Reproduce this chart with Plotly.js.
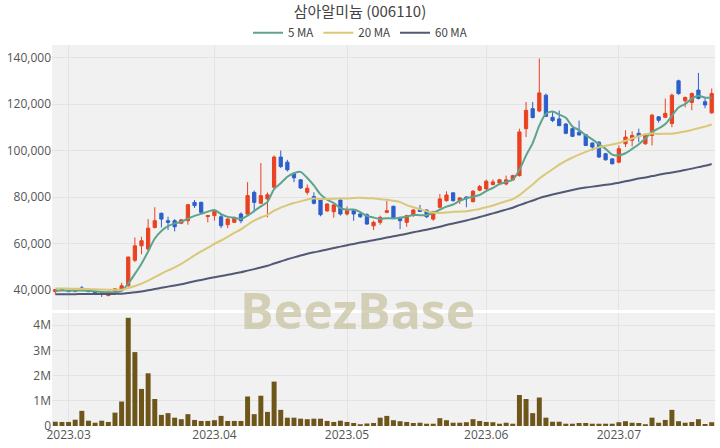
<!DOCTYPE html>
<html><head><meta charset="utf-8">
<script src="https://cdn.plot.ly/plotly-3.0.1.min.js"></script>
<style>html,body{margin:0;padding:0;background:#fff;}#chart{width:720px;height:448px;}</style>
</head><body><div id="chart"></div>
<script>
const dates = [
'2023-02-27','2023-02-28',
'2023-03-02','2023-03-03','2023-03-06','2023-03-07','2023-03-08','2023-03-09','2023-03-10','2023-03-13','2023-03-14','2023-03-15','2023-03-16','2023-03-17','2023-03-20','2023-03-21','2023-03-22','2023-03-23','2023-03-24','2023-03-27','2023-03-28','2023-03-29','2023-03-30','2023-03-31',
'2023-04-03','2023-04-04','2023-04-05','2023-04-06','2023-04-07','2023-04-10','2023-04-11','2023-04-12','2023-04-13','2023-04-14','2023-04-17','2023-04-18','2023-04-19','2023-04-20','2023-04-21','2023-04-24','2023-04-25','2023-04-26','2023-04-27','2023-04-28',
'2023-05-02','2023-05-03','2023-05-04','2023-05-08','2023-05-09','2023-05-10','2023-05-11','2023-05-12','2023-05-15','2023-05-16','2023-05-17','2023-05-18','2023-05-19','2023-05-22','2023-05-23','2023-05-24','2023-05-25','2023-05-26','2023-05-29','2023-05-30','2023-05-31',
'2023-06-01','2023-06-02','2023-06-05','2023-06-07','2023-06-08','2023-06-09','2023-06-12','2023-06-13','2023-06-14','2023-06-15','2023-06-16','2023-06-19','2023-06-20','2023-06-21','2023-06-22','2023-06-23','2023-06-26','2023-06-27','2023-06-28','2023-06-29',
'2023-07-03','2023-07-04','2023-07-05','2023-07-06','2023-07-07','2023-07-10','2023-07-11','2023-07-12','2023-07-13','2023-07-14','2023-07-17','2023-07-18','2023-07-19','2023-07-20','2023-07-21'];

const openP = [39300,40200,39900,39300,40900,40200,39300,38800,37600,39800,40400,41800,52800,59000,57600,66900,73000,69800,69800,68700,
69800,77700,77700,71600,72000,71500,68100,69100,72700,72700,82000,77300,79200,84200,97200,95000,90000,87400,82000,80200,
78700,74000,73700,78700,72700,74100,72700,72400,67600,69100,73400,76000,71250,69100,72000,74800,74400,70500,75600,78400,
81800,78400,80000,78000,82900,83500,85400,86000,85600,87400,89200,109400,118000,117000,123800,114300,113600,111400,109400,107900,
106800,103200,103600,98600,96400,95000,102900,104400,107400,102900,106500,114500,114300,111600,130000,121400,120700,126000,121000,116200];
const highP = [40300,40500,40000,40000,41700,40400,39400,39000,39300,40800,43100,54300,62600,62900,70500,75600,73300,71500,70500,70500,
77000,78700,78000,72300,74200,72700,71000,71500,73400,86400,82800,94600,82000,97900,100000,96000,90700,87600,85400,82000,
79000,77300,77000,79000,75900,74800,73000,73000,69800,72000,78400,76300,71500,72400,74800,76600,74600,74000,81300,82500,
82000,80000,80300,83000,85200,87500,87600,87800,89200,89600,109400,120900,120900,139600,124500,116500,117200,111800,110000,112900,
107000,103500,104000,99000,96700,102200,108700,108300,109400,107000,115800,114800,122300,124500,130500,123300,125000,133400,123100,126700];
const lowP = [38200,39700,39100,39200,39800,39100,38600,37000,37300,39500,40000,41500,52000,55400,57000,66500,66900,65800,65200,68300,
68100,75300,73200,69100,69800,66600,66600,68800,68700,72000,73400,77000,71300,83500,92500,91000,86400,83500,81000,76800,
71700,73800,71100,72000,72000,69800,71000,68000,65800,68100,73000,70800,66200,67200,71500,73600,71000,69800,75000,78000,
78000,77000,75600,77700,82500,83000,85000,85500,85000,87000,88800,105800,113800,116500,114500,112200,110500,107000,105800,106500,
101900,100000,96800,95700,94000,94500,101500,101800,103600,102500,102200,112000,113900,110000,124000,118600,117300,122000,118200,115800];
const closeP = [40200,39800,39300,39800,40000,39300,38700,38100,39100,40500,41800,54200,59000,61200,66600,69800,70500,69100,67200,70200,
76700,76300,73400,72000,73800,67650,70500,71250,69800,80600,77700,80600,81000,97200,93100,91700,88250,83900,83800,77300,
72400,77000,76600,72700,74100,72700,71500,68400,69100,71250,74100,71000,69800,72000,74400,73800,71500,73800,79200,80900,
78450,79600,79300,82500,84500,86800,86500,87400,87400,89200,108000,117300,114200,124800,114700,112900,110700,107400,106100,106700,
102200,101500,97200,96000,94300,100800,105800,106500,106100,106700,115200,113000,116000,123800,124500,122800,124500,122400,119600,124500];
const volume = [170000,160000,160000,250000,600000,210000,130000,210000,160000,530000,970000,4290000,2930000,1470000,2090000,1070000,440000,510000,330000,270000,
470000,240000,200000,200000,230000,400000,200000,200000,200000,1170000,470000,1200000,560000,1760000,640000,330000,330000,290000,270000,290000,
290000,200000,160000,210000,160000,120000,70000,100000,120000,330000,400000,230000,190000,160000,120000,130000,90000,90000,310000,230000,
130000,130000,150000,270000,200000,160000,150000,90000,130000,90000,1230000,1070000,510000,1130000,330000,170000,170000,90000,90000,120000,
120000,90000,90000,90000,90000,150000,190000,130000,120000,70000,330000,130000,240000,640000,190000,130000,160000,270000,80000,150000];
const ma5 = [39700,39800,39700,39800,39820,39640,39420,39180,39040,39140,39640,42740,46920,51340,56560,62160,65420,67440,68640,69360,
70740,71900,72760,73720,74440,72630,71470,71040,70600,71960,73970,75990,77940,83420,85920,88720,90250,90830,88150,84990,
81130,78880,77420,75200,74560,74620,73520,71880,71160,70590,70870,70770,71050,71630,72260,72200,72300,73100,74540,75840,
76770,78390,79490,80150,80870,82540,83920,85540,86520,87460,91700,97860,103220,110700,115800,116780,115460,114100,110360,108760,
106620,104780,102740,100720,98240,97960,98820,100680,102700,105180,108060,109500,111400,114940,118500,120020,122320,123600,122760,122760];
const ma20 = [40675,40630,40560,40515,40480,40410,40310,40180,40100,40090,40145,40820,41735,42760,44055,45510,47000,48420,49745,51220,
53045,54870,56575,58185,59875,61292,62882,64540,66075,68080,69875,71195,72295,74095,75420,76515,77402,78142,78972,79327,
79112,79147,79307,79342,79357,79610,79660,79517,79482,79015,78835,78355,77795,76535,75600,74705,73867,73362,73132,73312,
73615,73745,73880,74370,74890,75595,76345,77295,78210,79107,80802,83117,85337,87977,89992,91947,93907,95587,96932,98222,
99410,100505,101400,102075,102565,103265,104230,105185,106120,106995,107355,107140,107230,107180,107670,108165,108855,109605,110280,111170];
const ma60 = [38135,38163,38183,38211,38243,38263,38273,38273,38290,38330,38392,38660,39008,39393,39868,40396,40936,41453,41938,42473,
43116,43753,44341,44906,45501,45994,46534,47087,47615,48323,48983,49691,50406,51391,52308,53201,54037,54800,55562,56215,
56787,57435,58077,58654,59254,59831,60388,60893,61410,61963,62563,63111,63639,64204,64809,65404,65961,66556,67241,67954,
68591,69254,69921,70633,71375,72167,72964,73786,74591,75403,76506,77558,78478,79538,80340,81058,81728,82366,83014,83622,
84047,84467,84864,85264,85606,86158,86746,87334,87939,88374,88999,89539,90122,90565,91088,91606,92210,92852,93449,94236];

const monthTickDates = ['2023-03-02','2023-04-03','2023-05-02','2023-06-01','2023-07-03'];
const monthTickText = ['2023.03','2023.04','2023.05','2023.06','2023.07'];
const priceTicks = [40000,60000,80000,100000,120000,140000];
const volTicks = [0,1000000,2000000,3000000,4000000];
const volTickText = ['0','1M','2M','3M','4M'];

const UP = '#ea4120', DOWN = '#2b5fcc';
const traces = [
  {type:'candlestick', x:dates, open:openP, high:highP, low:lowP, close:closeP,
   xaxis:'x', yaxis:'y', showlegend:false, hoverinfo:'skip', whiskerwidth:0,
   increasing:{line:{color:UP,width:1}, fillcolor:UP},
   decreasing:{line:{color:DOWN,width:1}, fillcolor:DOWN}},
  {type:'scatter', mode:'lines', x:dates, y:ma5, name:'5 MA', xaxis:'x', yaxis:'y',
   line:{color:'#5ea48c', width:2, shape:'spline', smoothing:0.8}, hoverinfo:'skip'},
  {type:'scatter', mode:'lines', x:dates, y:ma20, name:'20 MA', xaxis:'x', yaxis:'y',
   line:{color:'#d8c878', width:2, shape:'spline', smoothing:0.8}, hoverinfo:'skip'},
  {type:'scatter', mode:'lines', x:dates, y:ma60, name:'60 MA', xaxis:'x', yaxis:'y',
   line:{color:'#525875', width:2, shape:'spline', smoothing:0.8}, hoverinfo:'skip'},
  {type:'bar', x:dates, y:volume, xaxis:'x2', yaxis:'y2', showlegend:false, hoverinfo:'skip',
   marker:{color:'#6e561b', line:{width:0}}}
];

const gridC = '#e3e3e3';
const tickFont = {family:'Open Sans, sans-serif', size:12, color:'#555'};
const layout = {
  width:720, height:448,
  margin:{l:52, r:5, t:45, b:22},
  paper_bgcolor:'#ffffff', plot_bgcolor:'#f1f1f1',
  bargap:0.25,
  title:{text:'삼아알미늄 (006110)', x:0.5, xanchor:'center', y:0.973, yanchor:'middle',
         font:{family:'Noto Sans CJK KR, sans-serif', size:15, color:'#444'}},
  showlegend:true,
  legend:{orientation:'h', x:0.4646, xanchor:'center', y:1.032, yanchor:'middle',
          font:{family:'Noto Sans CJK KR, sans-serif', size:11.5, color:'#444'},
          bgcolor:'rgba(0,0,0,0)', itemwidth:30},
  xaxis:{type:'category', domain:[0,1], anchor:'y', range:[-0.5,99.5],
         tickvals:monthTickDates, ticktext:monthTickText, showticklabels:false,
         showgrid:true, gridcolor:gridC, zeroline:false, rangeslider:{visible:false}, fixedrange:true},
  yaxis:{domain:[0.3045,1], anchor:'x', range:[31400,145400], tickvals:priceTicks, tickformat:',d',
         showgrid:true, gridcolor:gridC, zeroline:false, tickfont:tickFont, fixedrange:true},
  xaxis2:{type:'category', domain:[0,1], anchor:'y2', matches:'x', range:[-0.5,99.5],
          tickvals:monthTickDates, ticktext:monthTickText, tickfont:tickFont,
          showgrid:true, gridcolor:gridC, zeroline:false, fixedrange:true},
  yaxis2:{domain:[0,0.2966], anchor:'x2', range:[0,4480000], tickvals:volTicks, ticktext:volTickText,
          showgrid:true, gridcolor:gridC, zeroline:false, tickfont:tickFont, fixedrange:true},
  annotations:[{text:'<b>BeezBase</b>', xref:'paper', yref:'paper', x:0.4615, y:0.3045,
                xanchor:'center', yanchor:'middle', showarrow:false,
                font:{family:'Open Sans, sans-serif', size:50, color:'rgba(200,192,160,0.72)'}}]
};
Plotly.newPlot('chart', traces, layout, {staticPlot:true, displayModeBar:false});
</script>
</body></html>
